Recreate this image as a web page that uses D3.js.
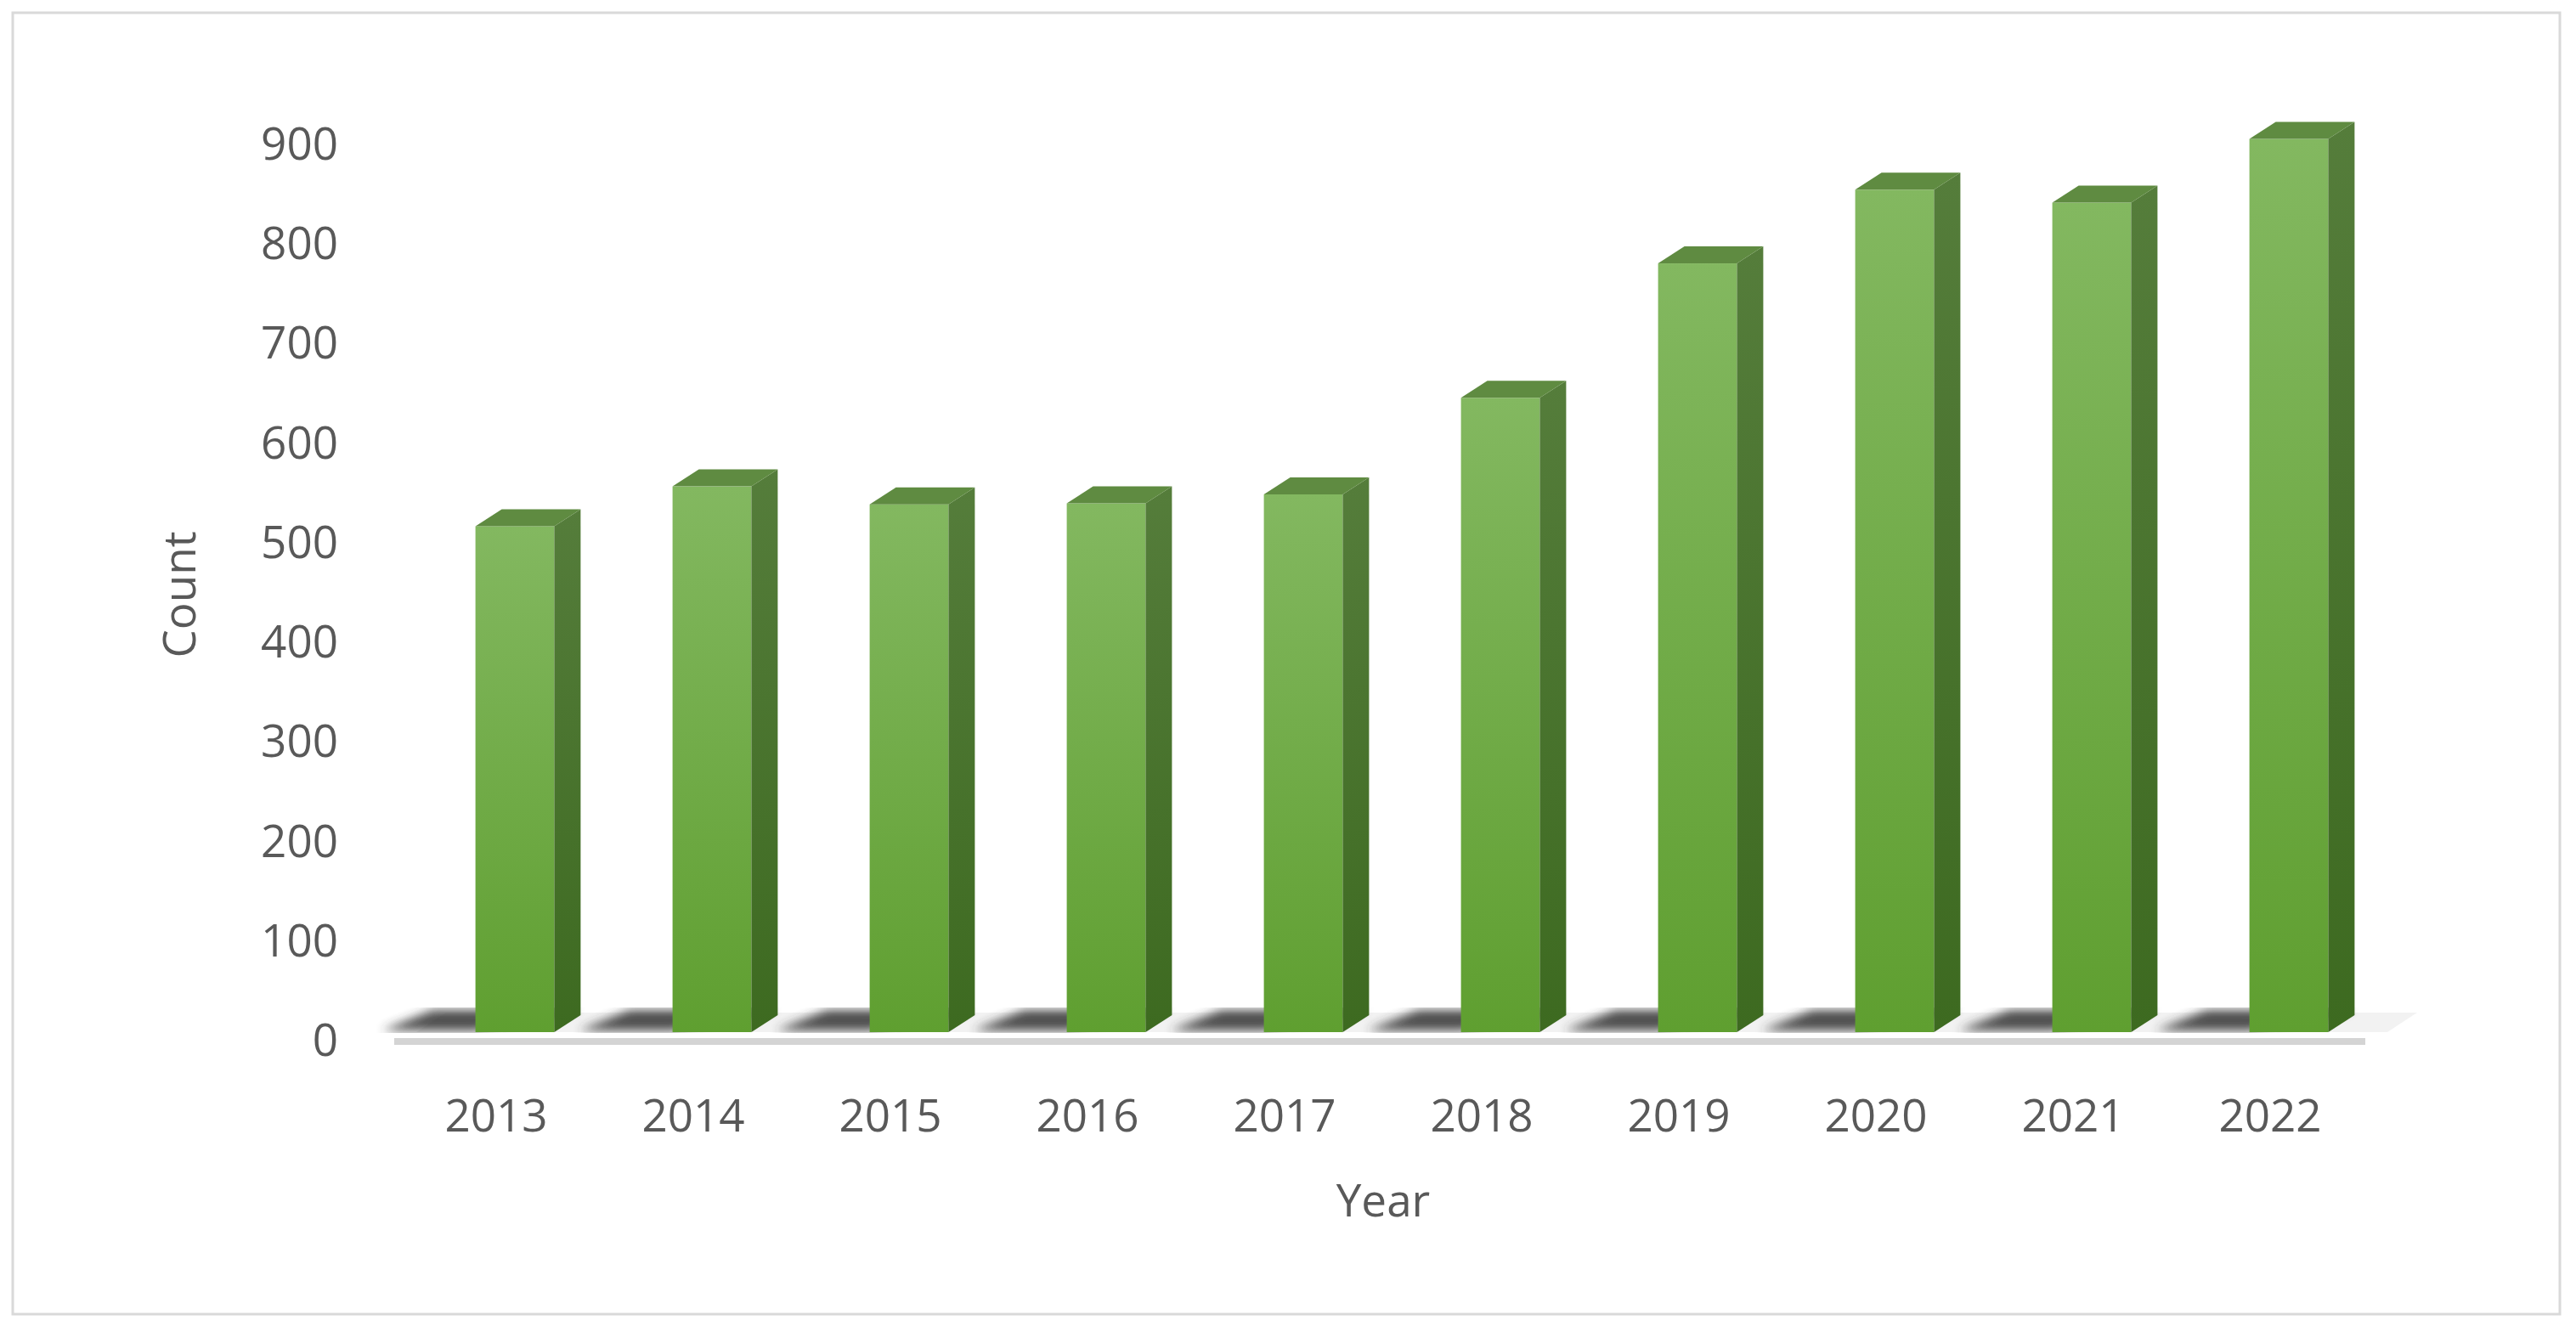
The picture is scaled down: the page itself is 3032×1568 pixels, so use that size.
<!DOCTYPE html>
<html>
<head>
<meta charset="utf-8">
<script src="https://cdn.jsdelivr.net/npm/d3@7"></script>
<style>
  body { margin: 0; background: #fff; }
  text { font-family: "Open Sans", "Liberation Sans", sans-serif; fill: #595959; }
</style>
</head>
<body>
<div id="chart"></div>
<script>
let years = ["2013", "2014", "2015", "2016", "2017", "2018", "2019", "2020", "2021", "2022"];
let counts = [508, 548, 530, 531, 540, 637, 772, 846, 833, 897];
let yTicks = [0, 100, 200, 300, 400, 500, 600, 700, 800, 900];

let dim = { width: 3032, height: 1568 };
let depth = { dx: 31, dy: 20 };

let svg = d3.select("#chart").append("svg")
    .attr("width", dim.width).attr("height", dim.height);

let defs = svg.append("defs");
function grad(id, c1, c2) {
    let g = defs.append("linearGradient").attr("id", id)
        .attr("x1", 0).attr("y1", 0).attr("x2", 0).attr("y2", 1);
    g.append("stop").attr("offset", "0%").attr("stop-color", c1);
    g.append("stop").attr("offset", "100%").attr("stop-color", c2);
}
grad("front", "#83b860", "#5f9f30");
grad("side", "#557d3b", "#3d6a20");
defs.append("filter").attr("id", "blur").attr("x", "-50%").attr("width", "200%")
    .append("feGaussianBlur").attr("stdDeviation", 6);

// outer border
svg.append("rect").attr("x", 15).attr("y", 15).attr("width", 2998).attr("height", 1532)
    .attr("fill", "none").attr("stroke", "#d9d9d9").attr("stroke-width", 3);

let x = d3.scaleBand().domain(years).range([490, 2810]).paddingInner(0.6).paddingOuter(0.3);
let y = d3.scaleLinear().domain([0, 900]).range([1215, 160]);

// y labels
svg.append("g").selectAll("text").data(yTicks).join("text")
    .attr("x", 398).attr("y", d => y(d) + 28).attr("text-anchor", "end")
    .attr("font-size", 53).text(d => d);

// floor
svg.append("rect").attr("x", 464).attr("y", 1222).attr("width", 2320).attr("height", 8)
    .attr("fill", "#d4d4d4");
svg.append("polygon")
    .attr("points", [[490, 1215], [2810, 1215], [2845, 1192], [525, 1192]].join(" "))
    .attr("fill", "#f2f2f2");

let bars = svg.append("g").selectAll("g").data(years).join("g");

// shadows on floor
bars.append("polygon")
    .attr("points", d => {
        let x0 = x(d), w = x.bandwidth(), b = y(0);
        return [[x0 - 110, b - 2], [x0, b - 2], [x0 + w + depth.dx, b - depth.dy - 6], [x0 - 50, b - depth.dy - 6]].join(" ");
    })
    .attr("fill", "#333").attr("opacity", 0.85).attr("filter", "url(#blur)");

bars.append("rect")
    .attr("x", d => x(d)).attr("y", (d, i) => y(counts[i]))
    .attr("width", x.bandwidth()).attr("height", (d, i) => y(0) - y(counts[i]))
    .attr("fill", "url(#front)");

bars.append("polygon")
    .attr("points", (d, i) => {
        let r = x(d) + x.bandwidth(), t = y(counts[i]), b = y(0);
        return [[r, t], [r + depth.dx, t - depth.dy], [r + depth.dx, b - depth.dy], [r, b]].join(" ");
    })
    .attr("fill", "url(#side)");

bars.append("polygon")
    .attr("points", (d, i) => {
        let l = x(d), r = l + x.bandwidth(), t = y(counts[i]);
        return [[l, t], [l + depth.dx, t - depth.dy], [r + depth.dx, t - depth.dy], [r, t]].join(" ");
    })
    .attr("fill", "#5f8b41");

// x labels
svg.append("g").selectAll("text").data(years).join("text")
    .attr("x", d => x(d) + x.bandwidth() / 2 - 22).attr("y", 1332)
    .attr("text-anchor", "middle").attr("font-size", 53).text(d => d);

svg.append("text").attr("x", 1628).attr("y", 1432).attr("text-anchor", "middle")
    .attr("font-size", 53).text("Year");
svg.append("text").attr("transform", "translate(230,700) rotate(-90)")
    .attr("text-anchor", "middle").attr("font-size", 53).text("Count");
</script>
</body>
</html>
